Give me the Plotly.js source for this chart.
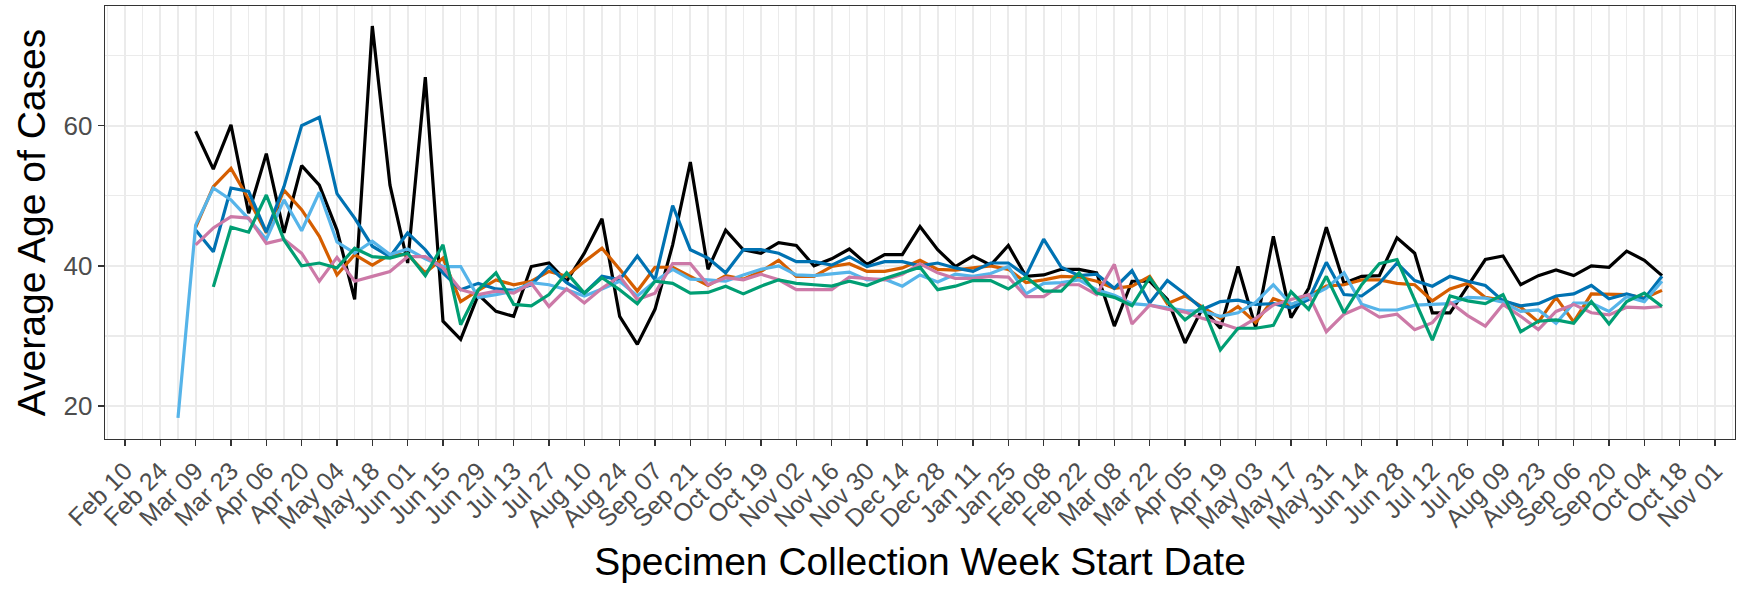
<!DOCTYPE html>
<html>
<head>
<meta charset="utf-8">
<script src="https://cdn.plot.ly/plotly-3.0.1.min.js"></script>
<style>
  html, body { margin: 0; padding: 0; background: #ffffff; }
  #chart { width: 1743px; height: 589px; }
</style>
</head>
<body>
<div id="chart"></div>
<script>
// Week start dates (Mondays)
var weeks = [
  "2020-03-02","2020-03-09","2020-03-16","2020-03-23","2020-03-30",
  "2020-04-06","2020-04-13","2020-04-20","2020-04-27",
  "2020-05-04","2020-05-11","2020-05-18","2020-05-25",
  "2020-06-01","2020-06-08","2020-06-15","2020-06-22","2020-06-29",
  "2020-07-06","2020-07-13","2020-07-20","2020-07-27",
  "2020-08-03","2020-08-10","2020-08-17","2020-08-24","2020-08-31",
  "2020-09-07","2020-09-14","2020-09-21","2020-09-28",
  "2020-10-05","2020-10-12","2020-10-19","2020-10-26",
  "2020-11-02","2020-11-09","2020-11-16","2020-11-23","2020-11-30",
  "2020-12-07","2020-12-14","2020-12-21","2020-12-28",
  "2021-01-04","2021-01-11","2021-01-18","2021-01-25",
  "2021-02-01","2021-02-08","2021-02-15","2021-02-22",
  "2021-03-01","2021-03-08","2021-03-15","2021-03-22","2021-03-29",
  "2021-04-05","2021-04-12","2021-04-19","2021-04-26",
  "2021-05-03","2021-05-10","2021-05-17","2021-05-24","2021-05-31",
  "2021-06-07","2021-06-14","2021-06-21","2021-06-28",
  "2021-07-05","2021-07-12","2021-07-19","2021-07-26",
  "2021-08-02","2021-08-09","2021-08-16","2021-08-23","2021-08-30",
  "2021-09-06","2021-09-13","2021-09-20","2021-09-27",
  "2021-10-04","2021-10-11"
];

var blackAge = [null,
  59.2,53.8,60.1,47.5,56.0,44.7,54.3,51.5,45.1,35.2,
  74.2,51.5,40.4,66.9,32.1,29.5,35.9,33.5,32.8,39.9,
  40.4,37.8,41.8,46.7,32.8,28.8,33.8,43.0,54.8,39.5,
  45.1,42.3,41.8,43.3,42.9,40.0,41.0,42.4,40.2,41.6,
  41.6,45.6,42.3,39.9,41.4,40.1,42.9,38.5,38.7,39.5,
  39.5,39.0,31.4,37.8,37.8,35.2,29.0,34.0,31.1,39.9,
  31.2,44.2,32.6,36.8,45.5,37.5,38.5,38.6,44.0,41.8,
  33.3,33.3,37.1,40.9,41.4,37.3,38.6,39.4,38.6,40.0,
  39.8,42.1,40.8,38.6];

var blueAge = [null,
  45.1,42.0,51.1,50.6,44.8,51.3,60.0,61.2,50.3,46.8,
  42.8,41.3,44.7,42.3,39.0,36.6,37.5,36.7,36.5,37.3,
  39.9,37.6,36.1,38.5,38.0,41.4,38.0,48.6,42.3,41.1,
  39.0,42.3,42.3,41.8,40.6,40.6,40.1,41.3,39.9,40.6,
  40.6,40.0,40.4,39.7,39.2,40.4,40.4,38.6,43.8,39.8,
  38.6,38.8,36.8,39.3,34.7,37.9,36.0,33.8,34.9,35.1,
  34.5,34.6,34.0,35.2,40.5,35.9,35.7,37.5,40.4,37.9,
  37.1,38.5,37.8,37.2,35.0,34.3,34.6,35.7,36.0,37.2,
  35.3,36.0,35.3,38.5];

var orangeAge = [null,
  45.5,51.3,53.9,49.5,44.7,50.8,48.0,44.2,38.7,41.6,
  40.1,41.6,41.6,39.0,41.1,34.9,36.5,38.0,37.3,37.8,
  39.2,38.5,40.6,42.5,39.5,36.4,39.8,39.8,38.5,37.2,
  38.6,38.1,39.2,40.8,38.5,38.5,39.9,40.3,39.2,39.2,
  39.7,40.8,39.5,39.4,39.7,40.0,39.5,37.6,38.0,38.5,
  38.4,37.8,36.8,37.1,38.5,34.6,35.7,34.1,32.5,34.2,
  31.9,35.3,34.4,35.7,37.1,37.3,38.0,38.0,37.5,37.3,
  35.0,36.7,37.5,35.5,35.1,34.1,32.0,35.5,32.0,36.0,
  35.9,35.9,35.4,36.5];

var lightBlueAge = [18.3,
  45.8,51.1,49.4,46.7,43.8,49.4,45.0,50.5,43.4,41.8,
  43.5,41.6,42.4,41.0,39.9,39.9,35.5,35.9,36.4,37.6,
  37.3,36.6,35.7,36.7,37.8,35.7,37.8,39.5,38.1,38.0,
  37.8,38.7,39.5,40.0,38.7,38.6,38.9,39.1,38.0,38.1,
  37.1,38.7,37.7,38.8,38.5,38.9,39.9,36.0,37.5,37.6,
  38.0,36.6,35.8,34.6,34.4,34.0,33.6,33.5,32.8,33.3,
  34.8,37.3,34.5,35.5,36.8,39.0,34.5,33.7,33.7,34.4,
  34.5,34.6,35.5,35.4,34.8,33.5,33.7,31.8,34.7,34.7,
  33.5,35.6,34.9,37.8];

var pinkAge = [null,
  43.0,45.4,47.0,46.8,43.2,43.8,41.8,37.8,41.2,37.8,
  38.5,39.2,41.3,41.3,39.7,36.6,35.9,36.4,36.1,37.5,
  34.2,36.7,34.7,36.8,38.5,35.2,36.1,40.3,40.3,37.3,
  38.3,38.0,38.8,38.0,36.6,36.6,36.6,38.4,38.2,38.0,
  38.8,40.3,39.0,38.2,38.2,38.5,38.4,35.6,35.6,37.3,
  37.3,35.9,40.2,31.7,34.4,33.8,33.4,32.5,31.8,31.0,
  32.5,34.4,35.2,35.9,30.6,33.1,34.2,32.7,33.1,30.9,
  31.9,34.8,32.9,31.4,34.5,32.8,30.9,33.5,34.5,33.3,
  33.0,34.1,34.0,34.2];

var greenAge = [null, null,
  37.0,45.5,44.8,50.1,43.7,40.0,40.4,39.7,42.5,
  41.3,41.1,41.8,38.6,43.0,31.6,36.6,39.0,34.5,34.3,
  35.9,39.0,36.1,38.3,36.6,34.6,37.8,37.5,36.1,36.2,
  37.1,36.0,37.1,38.0,37.5,37.3,37.1,37.8,37.2,38.2,
  39.0,39.8,36.6,37.1,37.9,37.9,36.7,38.4,36.4,36.4,
  39.0,36.1,35.5,34.3,38.3,34.9,32.3,34.2,28.0,31.1,
  31.1,31.5,36.3,33.8,38.5,33.3,37.3,40.3,40.9,35.2,
  29.4,35.7,35.0,34.6,35.9,30.6,32.1,32.3,31.8,34.9,
  31.7,34.9,36.1,34.2];

var xTickDates = [
  "2020-02-10","2020-02-24","2020-03-09","2020-03-23","2020-04-06","2020-04-20",
  "2020-05-04","2020-05-18","2020-06-01","2020-06-15","2020-06-29","2020-07-13",
  "2020-07-27","2020-08-10","2020-08-24","2020-09-07","2020-09-21","2020-10-05",
  "2020-10-19","2020-11-02","2020-11-16","2020-11-30","2020-12-14","2020-12-28",
  "2021-01-11","2021-01-25","2021-02-08","2021-02-22","2021-03-08","2021-03-22",
  "2021-04-05","2021-04-19","2021-05-03","2021-05-17","2021-05-31","2021-06-14",
  "2021-06-28","2021-07-12","2021-07-26","2021-08-09","2021-08-23","2021-09-06",
  "2021-09-20","2021-10-04","2021-10-18","2021-11-01"
];
var xTickLabels = [
  "Feb 10","Feb 24","Mar 09","Mar 23","Apr 06","Apr 20",
  "May 04","May 18","Jun 01","Jun 15","Jun 29","Jul 13",
  "Jul 27","Aug 10","Aug 24","Sep 07","Sep 21","Oct 05",
  "Oct 19","Nov 02","Nov 16","Nov 30","Dec 14","Dec 28",
  "Jan 11","Jan 25","Feb 08","Feb 22","Mar 08","Mar 22",
  "Apr 05","Apr 19","May 03","May 17","May 31","Jun 14",
  "Jun 28","Jul 12","Jul 26","Aug 09","Aug 23","Sep 06",
  "Sep 20","Oct 04","Oct 18","Nov 01"
];
var yTickVals = [20, 40, 60];
var yTickLabels = ["20", "40", "60"];

var seriesList = [
  {y: blackAge, color: "#000000"},
  {y: orangeAge, color: "#D55E00"},
  {y: blueAge, color: "#0072B2"},
  {y: lightBlueAge, color: "#56B4E9"},
  {y: pinkAge, color: "#CC79A7"},
  {y: greenAge, color: "#009E73"}
];

var traces = seriesList.map(function (s) {
  return {
    x: weeks, y: s.y, type: "scatter", mode: "lines",
    line: {color: s.color, width: 3.2},
    connectgaps: false, showlegend: false, hoverinfo: "x+y"
  };
});

var WEEK = 7 * 86400000;
var layout = {
  width: 1743, height: 589,
  paper_bgcolor: "#ffffff", plot_bgcolor: "#ffffff",
  margin: {l: 105, r: 8, t: 6, b: 150},
  font: {family: "Liberation Sans, Arial, sans-serif", color: "#000000"},
  showlegend: false,
  xaxis: {
    type: "date",
    range: ["2020-02-02 02:00", "2021-11-08 22:00"],
    tickmode: "array", tickvals: xTickDates, ticktext: xTickLabels,
    tickangle: -45,
    ticks: "outside", ticklen: 6, tickwidth: 1.4, tickcolor: "#333333",
    tickfont: {size: 25, color: "#4D4D4D"},
    showgrid: true, gridcolor: "#EBEBEB", gridwidth: 2.2,
    minor: {dtick: WEEK, tick0: "2020-02-10", showgrid: true, gridcolor: "#EBEBEB", gridwidth: 1.3},
    showline: true, mirror: true, linecolor: "#333333", linewidth: 1.4,
    zeroline: false,
    title: {text: "Specimen Collection Week Start Date", font: {size: 39, color: "#000000"}, standoff: 14}
  },
  yaxis: {
    range: [15.3, 77.06],
    tickmode: "array", tickvals: yTickVals, ticktext: yTickLabels,
    ticks: "outside", ticklen: 6, tickwidth: 1.4, tickcolor: "#333333",
    tickfont: {size: 26, color: "#4D4D4D"},
    showgrid: true, gridcolor: "#EBEBEB", gridwidth: 2.2,
    minor: {dtick: 10, tick0: 0, showgrid: true, gridcolor: "#EBEBEB", gridwidth: 1.3},
    showline: true, mirror: true, linecolor: "#333333", linewidth: 1.4,
    zeroline: false,
    title: {text: "Average Age of Cases", font: {size: 39, color: "#000000"}, standoff: 6}
  }
};

Plotly.newPlot("chart", traces, layout, {displayModeBar: false, staticPlot: true});
</script>
</body>
</html>
